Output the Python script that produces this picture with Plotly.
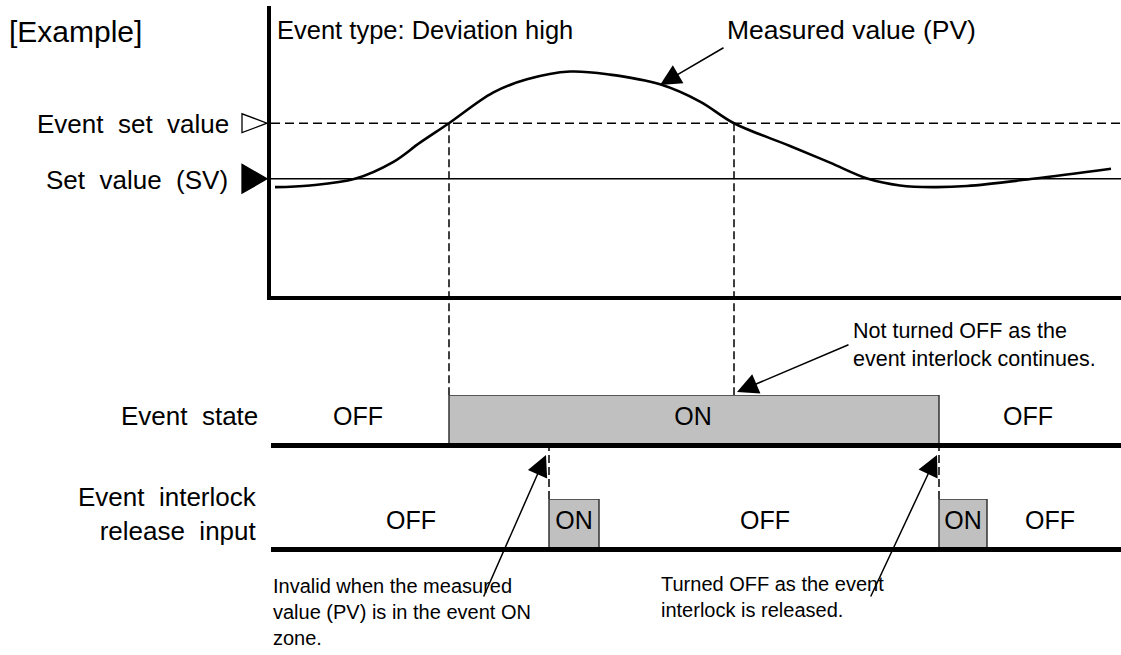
import plotly.graph_objects as go

W, H = 1121, 655
FONT = "Liberation Sans, Arial, sans-serif"

# ---- data -------------------------------------------------------------
# measured value (PV) over time, SV = 100, event set value = 110 (deviation high +10)
pv_time = [0.4, 3.9, 8.4, 12.2, 14.9, 17.8, 22.2, 25.6, 29.9, 33.9, 38.9, 42.9, 46.3,
           51.9, 55.9, 59.7, 62.9, 66.2, 69.6, 76.2, 84.0]
pv_value = [98.5, 98.8, 100.0, 103.0, 106.5, 110.0, 115.5, 117.9, 119.3, 118.75, 117.0,
            113.9, 110.0, 105.9, 102.9, 100.0, 98.8, 98.5, 98.7, 100.0, 101.8]
set_value = 100
event_set_value = 110

# event state ON interval
event_on = [17.8, 66.8]
# second PV crossing of the event set value
pv_cross_down = 46.3
# event interlock release input pulses
interlock_on = [[27.8, 32.8], [66.8, 71.6]]

state_labels = ["OFF", "ON", "OFF"]
state_label_t = [8.7, 42.2, 75.7]
interlock_labels = ["OFF", "ON", "OFF", "ON", "OFF"]
interlock_label_t = [14.0, 30.3, 49.4, 69.2, 77.9]

T_RANGE = [0, 85]
PV_RANGE = [78.9, 131.1]

# ---- layout helpers (pixel -> paper) -----------------------------------
def px(x):
    return x / W

def py(y):
    return 1 - y / H

X_DOM = [px(271), 1]
Y1_DOM = [py(296), py(6)]
Y2_DOM = [py(443), py(395)]
Y3_DOM = [py(547), py(499)]

def to_paper(dom, rng, v):
    return dom[0] + (v - rng[0]) / (rng[1] - rng[0]) * (dom[1] - dom[0])

fig = go.Figure()

# PV panel
fig.add_trace(go.Scatter(x=T_RANGE, y=[event_set_value] * 2, mode="lines",
                         line=dict(color="black", width=1.6, dash="9px,5px"),
                         xaxis="x", yaxis="y"))
fig.add_trace(go.Scatter(x=T_RANGE, y=[set_value] * 2, mode="lines",
                         line=dict(color="black", width=1.5),
                         xaxis="x", yaxis="y"))
fig.add_trace(go.Scatter(x=pv_time, y=pv_value, mode="lines",
                         line=dict(color="black", width=2.6, shape="spline", smoothing=1.0),
                         xaxis="x", yaxis="y"))

# event state box
fig.add_trace(go.Scatter(x=[event_on[0], event_on[0], event_on[1], event_on[1]],
                         y=[0, 1, 1, 0], mode="lines", fill="toself",
                         fillcolor="#c0c0c0", line=dict(color="#333333", width=1.5),
                         xaxis="x2", yaxis="y2"))
fig.add_trace(go.Scatter(x=state_label_t, y=[0.5] * len(state_labels), mode="text",
                         text=state_labels, textfont=dict(size=25, color="black", family=FONT),
                         xaxis="x2", yaxis="y2"))

# interlock release pulses
for t0, t1 in interlock_on:
    fig.add_trace(go.Scatter(x=[t0, t0, t1, t1], y=[0, 1, 1, 0], mode="lines",
                             fill="toself", fillcolor="#c0c0c0",
                             line=dict(color="#333333", width=1.5),
                             xaxis="x3", yaxis="y3"))
fig.add_trace(go.Scatter(x=interlock_label_t, y=[0.5] * len(interlock_labels), mode="text",
                         text=interlock_labels, textfont=dict(size=25, color="black", family=FONT),
                         xaxis="x3", yaxis="y3"))

# dashed connectors across panels
connectors = [
    (event_on[0], to_paper(Y1_DOM, PV_RANGE, event_set_value), to_paper(Y2_DOM, [0, 1], 1)),
    (pv_cross_down, to_paper(Y1_DOM, PV_RANGE, event_set_value), to_paper(Y2_DOM, [0, 1], 1)),
    (interlock_on[0][0], to_paper(Y2_DOM, [0, 1], 0), to_paper(Y3_DOM, [0, 1], 1)),
    (interlock_on[1][0], to_paper(Y2_DOM, [0, 1], 0), to_paper(Y3_DOM, [0, 1], 1)),
]
shapes = []
for t, y0, y1 in connectors:
    shapes.append(dict(type="line", xref="x", yref="paper", x0=t, x1=t, y0=y0, y1=y1,
                       line=dict(color="black", width=1.5, dash="8px,4px")))

# marker triangles for event set value (open) and set value (filled)
def tri(yv, half, filled):
    x0, x1 = px(242), px(267)
    path = f"M{x0},{yv - half} L{x0},{yv + half} L{x1},{yv} Z"
    shapes.append(dict(type="path", xref="paper", yref="y", path=path,
                       fillcolor="black" if filled else "white",
                       line=dict(color="black", width=1.3)))

tri(event_set_value, 1.7, False)
tri(set_value, 2.6, True)

ann = []
def text(x, y, s, xanchor="left", size=25, align="left"):
    ann.append(dict(xref="paper", yref="paper", x=px(x), y=py(y), text=s, showarrow=False,
                    xanchor=xanchor, yanchor="middle", align=align,
                    font=dict(size=size, color="black", family=FONT)))

text(7, 32, "[Example]", size=30)
text(275, 30, "Event type: Deviation high", size=25.5)
text(725, 30, "Measured value (PV)", size=26.5)
text(231, 124, "Event  set  value", xanchor="right", align="right", size=26)
text(230, 180, "Set  value  (SV)", xanchor="right", align="right", size=26)
text(260, 416, "Event  state", xanchor="right", align="right", size=26)
text(259, 514, "Event  interlock<br>release  input", xanchor="right", align="right", size=26)
text(851, 345, "Not turned OFF as the<br>event interlock continues.", size=21.5)
text(271, 612, "Invalid when the measured<br>value (PV) is in the event ON<br>zone.", size=20)
text(659, 597, "Turned OFF as the event<br>interlock is released.", size=20)

# arrows: (tip time, tip paper y, tail offset x, tail offset y)
arrows = [
    (38.9, to_paper(Y1_DOM, PV_RANGE, 116.9), 65, -38),
    (46.6, to_paper(Y2_DOM, [0, 1], 1.06), 113, -48),
    (27.5, py(455), -63, 143),
    (66.6, py(455), -67, 143),
]
for x, y, ax, ay in arrows:
    ann.append(dict(xref="x", yref="paper", x=x, y=y, ax=ax, ay=ay, text="", showarrow=True,
                    arrowhead=2, arrowsize=2.8, arrowwidth=1.5, arrowcolor="black",
                    standoff=0, startstandoff=0))

axis_common = dict(showgrid=False, zeroline=False, showticklabels=False, ticks="")
fig.update_layout(
    width=W, height=H, margin=dict(l=0, r=0, t=0, b=0),
    paper_bgcolor="white", plot_bgcolor="rgba(0,0,0,0)", showlegend=False,
    xaxis=dict(domain=X_DOM, range=T_RANGE, anchor="y", showline=True, linewidth=4,
               linecolor="black", **axis_common),
    yaxis=dict(domain=Y1_DOM, range=PV_RANGE, anchor="x", showline=True, linewidth=4,
               linecolor="black", **axis_common),
    xaxis2=dict(domain=X_DOM, range=T_RANGE, anchor="y2", matches="x", showline=True,
                linewidth=4.5, linecolor="black", **axis_common),
    yaxis2=dict(domain=Y2_DOM, range=[0, 1], anchor="x2", showline=False, **axis_common),
    xaxis3=dict(domain=X_DOM, range=T_RANGE, anchor="y3", matches="x", showline=True,
                linewidth=4.5, linecolor="black", **axis_common),
    yaxis3=dict(domain=Y3_DOM, range=[0, 1], anchor="x3", showline=False, **axis_common),
    shapes=shapes, annotations=ann,
    font=dict(family=FONT, color="black"),
)

fig.write_html("out.html", config={"displayModeBar": False},
               post_script="document.body.style.margin='0';")
